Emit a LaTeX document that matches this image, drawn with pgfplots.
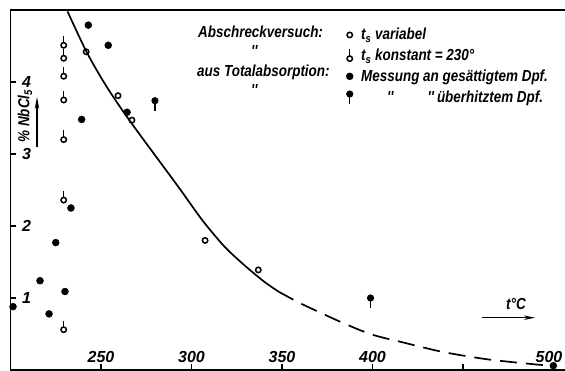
\documentclass[border=0pt]{standalone}
\usepackage{fontspec}
\setmainfont{Liberation Sans}
\newfontfamily\cf{Liberation Sans}[FakeStretch=0.84]
\usepackage{pgfplots}
\pgfplotsset{compat=1.18}
\usetikzlibrary{arrows.meta}
\newcommand\lf{\cf\fontsize{16}{19}\selectfont\bfseries\itshape}
\newcommand\tf{\fontsize{16}{19}\selectfont\bfseries\itshape}
\pgfdeclareplotmark{stemup}{%
  \pgfpathcircle{\pgfpointorigin}{\pgfplotmarksize}%
  \pgfusepathqstroke
  \pgfpathmoveto{\pgfpoint{0pt}{\pgfplotmarksize}}%
  \pgfpathlineto{\pgfpoint{0pt}{3.4*\pgfplotmarksize}}%
  \pgfusepathqstroke}
\pgfdeclareplotmark{stemdown}{%
  \pgfpathcircle{\pgfpointorigin}{\pgfplotmarksize}%
  \pgfusepathqfillstroke
  \pgfpathmoveto{\pgfpoint{0pt}{-\pgfplotmarksize}}%
  \pgfpathlineto{\pgfpoint{0pt}{-3.6*\pgfplotmarksize}}%
  \pgfusepathqstroke}
\pgfplotsset{lgimg/.style={legend image code/.code={\draw[##1] plot coordinates {(0pt,#1)};}}}
\begin{document}
\begin{tikzpicture}
\useasboundingbox (0pt,0pt) rectangle (565pt,-371pt);
\begin{axis}[
  at={(10.5pt,-370pt)}, anchor=south west,
  scale only axis, width=561.1pt, height=360pt,
  xmin=200, xmax=510, ymin=0, ymax=5,
  axis line style={line width=1.4pt},
  tick style={line width=1.3pt, black},
  major tick length=6pt,
  tick align=inside,
  xtick pos=bottom, ytick pos=left,
  xtick={250,300,350,400,450,500},
  xticklabels={250,300,350,400,,\hspace*{-9pt}500},
  ytick={1,2,3,4},
  yticklabels={1,2,3,4},
  xticklabel style={anchor=south, yshift=4pt, font=\tf},
  yticklabel style={anchor=west, xshift=8pt, font=\tf},
  legend style={draw=none, fill=none, at={(0.598,0.955)}, anchor=north west,
    font=\lf, row sep=3.6pt, inner sep=0pt,
    /tikz/every odd column/.append style={column sep=6pt}},
  legend cell align=left,
]
% t_s variabel
\addplot[only marks, mark=o, mark size=2.7pt, line width=1.5pt, lgimg=0pt]
  coordinates {(241.8,4.42) (259.4,3.81) (267.1,3.47) (307.5,1.80) (336.9,1.39)};
\addlegendentry{\textit{t}\textsubscript{s} variabel}
% t_s konstant = 230
\addplot[only marks, mark=stemup, mark size=2.7pt, line width=1.5pt, lgimg=-3pt]
  coordinates {(229.4,4.51) (229.4,4.33) (229.4,4.08) (229.4,3.75) (229.4,3.20) (229.4,2.36) (229.4,0.56)};
\addlegendentry{\textit{t}\textsubscript{s} konstant = 230°}
% gesaettigt
\addplot[only marks, mark=*, mark size=3.5pt, lgimg=0pt]
  coordinates {(243.0,4.79) (254.0,4.51) (239.3,3.48) (264.4,3.58) (233.4,2.25) (225.0,1.77)
   (216.3,1.24) (230.1,1.09) (221.3,0.78) (201.4,0.88) (499.9,0.06)};
\addlegendentry{Messung an gesättigtem Dpf.}
% ueberhitzt
\addplot[only marks, mark=stemdown, mark size=2.8pt, line width=1.5pt, lgimg=3pt]
  coordinates {(279.8,3.74) (398.9,1.00)};
\addlegendentry{\hspace{26pt}''\hspace{34pt}''\hspace{3pt}überhitztem Dpf.}
% curve
\addplot[forget plot, smooth, line width=1.7pt] coordinates {
 (231.5,4.98) (242,4.42) (252,3.98) (262,3.60) (272,3.25) (282,2.91) (294,2.50)
 (306,2.08) (318,1.72) (329,1.46) (340,1.23) (348,1.09)};
\addplot[forget plot, smooth, line width=1.7pt, dash pattern=on 17pt off 9pt] coordinates {
 (348,1.09) (356,0.98) (364,0.88) (384,0.65) (400,0.49) (419,0.37) (439,0.25)
 (463,0.15) (489,0.08) (497,0.065)};
\end{axis}
\node[anchor=base west, font=\lf, inner sep=0pt] at (198pt,-38pt) {Abschreckversuch:};
\node[anchor=base west, font=\lf, inner sep=0pt] at (251pt,-57pt) {''};
\node[anchor=base west, font=\lf, inner sep=0pt] at (197pt,-77pt) {aus Totalabsorption:};
\node[anchor=base west, font=\lf, inner sep=0pt] at (251pt,-96pt) {''};
\node[anchor=base west, font=\lf, inner sep=0pt] at (506pt,-310pt) {t°C};
\draw[line width=1.4pt, -{Stealth[length=11pt,width=4.5pt]}] (482pt,-317.7pt) -- (535pt,-317.7pt);
\node[rotate=90, font=\lf, inner sep=0pt] at (25pt,-116pt) {\% NbCl\textsubscript{5}};
\draw[line width=1.4pt, -{Stealth[length=12pt,width=4.5pt]}] (37pt,-147pt) -- (37pt,-97pt);
\end{tikzpicture}
\end{document}
